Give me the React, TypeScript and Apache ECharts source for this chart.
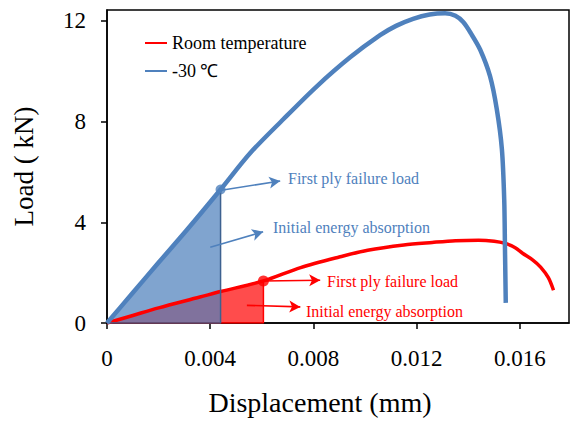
import { useEffect, useRef } from "react";
import * as echarts from "echarts";

const xTicks = [0, 0.004, 0.008, 0.012, 0.016];
const yTicks = [0, 4, 8, 12];
const seriesNames = ["Room temperature", "-30 ℃"];

// Room temperature load-displacement curve [displacement (mm), load (kN)]
const roomTempCurve: number[][] = [
  [0, 0], [0.001, 0.3], [0.002, 0.6], [0.0036, 1.03], [0.0044, 1.25], [0.00606, 1.67],
  [0.0075, 2.2], [0.009, 2.62], [0.0101, 2.89], [0.0115, 3.1], [0.0126, 3.2],
  [0.0135, 3.27], [0.0144, 3.29], [0.015, 3.25], [0.0154, 3.17], [0.0158, 3.0],
  [0.0161, 2.77], [0.0165, 2.5], [0.0168, 2.22], [0.0171, 1.8], [0.0173, 1.3],
];

// -30 °C load-displacement curve
const coldCurve: number[][] = [
  [0, 0], [0.001, 1.2], [0.002, 2.4], [0.0031, 3.7], [0.0044, 5.3], [0.00555, 6.75],
  [0.00684, 8.1], [0.00813, 9.4], [0.00942, 10.55], [0.01058, 11.43], [0.0112, 11.8],
  [0.01186, 12.08], [0.0125, 12.25], [0.0131, 12.3], [0.0135, 12.2], [0.0138, 11.95],
  [0.0141, 11.5], [0.01446, 10.85], [0.01484, 9.8], [0.0151, 8.5], [0.0153, 6.9],
  [0.01539, 4.9], [0.01542, 2.9], [0.01545, 0.8],
];

const roomTempFirstPly = [0.00606, 1.67];
const coldFirstPly = [0.0044, 5.3];

const annotationTexts = ["First ply failure load", "Initial energy absorption"];

const FONT = "Liberation Serif";
const BLUE = "#4f81bd";
const RED = "#ff0000";

function areaUpTo(curve: number[][], point: number[]) {
  const pts = curve.filter((p) => p[0] < point[0]).map((p) => [p[0], p[1]]);
  pts.push([point[0], point[1]]);
  pts.push([point[0], 0]);
  pts.push([0, 0]);
  return pts;
}

export default function App() {
  const ref = useRef<HTMLDivElement>(null);
  useEffect(() => {
    document.body.style.margin = "0";
    const chart = echarts.init(ref.current!, null, { renderer: "svg" });
    const arrow = (from: number[], to: number[], color: string) => ({
      type: "line",
      data: [],
      silent: true,
      markLine: {
        silent: true,
        animation: false,
        symbol: ["none", "arrow"],
        symbolSize: [9, 11],
        label: { show: false },
        lineStyle: { color, width: 1.6, type: "solid" },
        emphasis: { disabled: true },
        data: [[{ coord: from }, { coord: to }]],
      },
    });
    const txt = (x: number, y: number, text: string, fill: string) => ({
      type: "text", x, y,
      style: { text, fill, fontFamily: FONT, fontSize: 16, verticalAlign: "middle", font: `16px ${FONT}` },
    });
    chart.setOption({
      animation: false,
      textStyle: { fontFamily: FONT },
      grid: {
        left: 107, top: 10, right: 4, bottom: 98,
        show: true, borderColor: "#000", borderWidth: 1.5,
      },
      legend: {
        data: seriesNames,
        left: 140, top: 29, orient: "vertical",
        icon: "rect", itemWidth: 22, itemHeight: 2, itemGap: 10,
        textStyle: { fontFamily: FONT, fontSize: 18, color: "#000" },
        selectedMode: false,
      },
      xAxis: {
        type: "value", min: 0, max: 0.0179,
        name: "Displacement (mm)", nameLocation: "middle", nameGap: 65,
        nameTextStyle: { fontFamily: FONT, fontSize: 28, color: "#000", padding: [0, 36, 0, 0] },
        axisLine: { show: true, lineStyle: { color: "#000", width: 1.5 } },
        axisTick: { show: true, length: 6, lineStyle: { color: "#000", width: 1.5 }, customValues: xTicks },
        axisLabel: {
          customValues: xTicks, margin: 24,
          fontFamily: FONT, fontSize: 23, color: "#000",
          formatter: (v: number) => (v === 0 ? "0" : v.toFixed(3)),
        },
        splitLine: { show: false },
      },
      yAxis: {
        type: "value", min: 0, max: 12.43,
        name: "Load ( kN)", nameLocation: "middle", nameGap: 70,
        nameTextStyle: { fontFamily: FONT, fontSize: 27, color: "#000" },
        axisLine: { show: true, lineStyle: { color: "#000", width: 1.5 } },
        axisTick: { show: true, length: 6, lineStyle: { color: "#000", width: 1.5 }, customValues: yTicks },
        axisLabel: {
          customValues: yTicks, margin: 21,
          fontFamily: FONT, fontSize: 23, color: "#000",
          formatter: (v: number) => String(v),
        },
        splitLine: { show: false },
      },
      series: [
        {
          name: "roomArea", type: "line", data: areaUpTo(roomTempCurve, roomTempFirstPly),
          symbol: "none", silent: true,
          lineStyle: { color: RED, width: 1.5 },
          areaStyle: { color: RED, opacity: 0.7 },
        },
        {
          name: seriesNames[0], type: "line", data: roomTempCurve,
          symbol: "none", smooth: 0.3, color: RED,
          lineStyle: { color: RED, width: 3.5 },
        },
        {
          name: "coldArea", type: "line", data: areaUpTo(coldCurve, coldFirstPly),
          symbol: "none", silent: true,
          lineStyle: { color: "#3d6190", width: 1.5 },
          areaStyle: { color: BLUE, opacity: 0.72 },
        },
        {
          name: seriesNames[1], type: "line", data: coldCurve,
          symbol: "none", smooth: 0.3, color: BLUE,
          lineStyle: { color: BLUE, width: 4.5 },
        },
        {
          name: "markers", type: "scatter", silent: true,
          data: [
            { value: coldFirstPly, itemStyle: { color: BLUE }, symbolSize: 10 },
            { value: roomTempFirstPly, itemStyle: { color: RED }, symbolSize: 11 },
          ],
        },
        arrow([0.00443, 5.27], [0.00671, 5.64], BLUE),
        arrow([0.0040, 3.01], [0.00605, 3.62], BLUE),
        arrow([0.00606, 1.67], [0.00826, 1.70], RED),
        arrow([0.00542, 0.7], [0.00749, 0.64], RED),
      ],
      graphic: [
        txt(288, 178, annotationTexts[0], BLUE),
        txt(273, 227, annotationTexts[1], BLUE),
        txt(327, 281, annotationTexts[0], RED),
        txt(306, 311, annotationTexts[1], RED),
      ],
    });
    return () => chart.dispose();
  }, []);
  return <div ref={ref} style={{ width: 573, height: 421 }} />;
}
